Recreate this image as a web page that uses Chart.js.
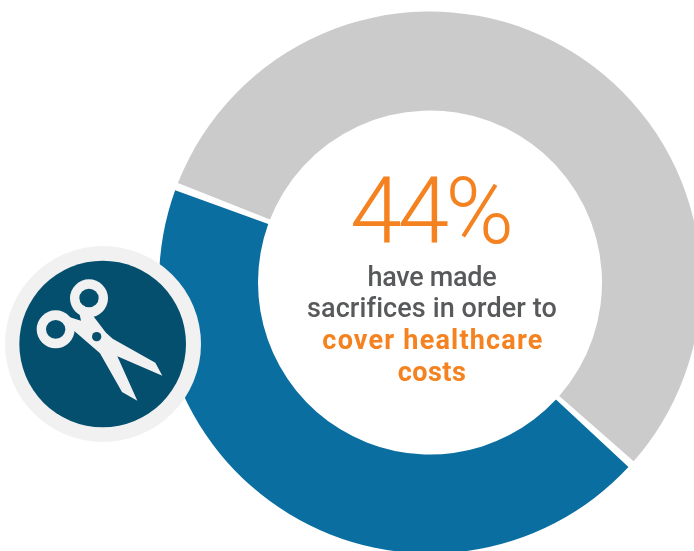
<!DOCTYPE html>
<html>
<head>
<meta charset="utf-8">
<script src="https://cdn.jsdelivr.net/npm/chart.js@4"></script>
<style>
html, body { margin: 0; padding: 0; background: #fff; width: 694px; height: 551px; overflow: hidden; }
#wrap { position: absolute; left: 0; top: 0; width: 694px; height: 551px; overflow: hidden; }
#ring { position: absolute; left: 159px; top: 11px; }
.txt { position: absolute; left: 232px; width: 400px; text-align: center; font-family: Roboto, sans-serif; font-weight: 500; white-space: nowrap; line-height: 32px; font-size: 27px; color: #58595b; }
.hl { color: #f58220; font-weight: 700; }
#big { left: 230px; font-size: 93px; font-weight: 300; color: #f58220; line-height: 100px; top: 162px; letter-spacing: -4px; }
#icon { position: absolute; left: 0; top: 230px; }
</style>
</head>
<body>
<div id="wrap">
  <canvas id="ring" width="542" height="543"></canvas>
  <div class="txt" id="big">44%</div>
  <div class="txt" style="top:261px;letter-spacing:-0.3px">have made</div>
  <div class="txt" style="top:292px;letter-spacing:0.1px">sacrifices in order to</div>
  <div class="txt hl" style="top:324px;letter-spacing:1.2px;left:233px">cover healthcare</div>
  <div class="txt hl" style="top:356px;letter-spacing:0.5px">costs</div>
  <svg id="icon" width="220" height="220" viewBox="0 0 660 660">
    <circle cx="309" cy="342" r="294" fill="#f1f1f1"/>
    <circle cx="308" cy="342" r="250" fill="#044e6e"/>
    <g fill="#f1f1f1">
      <circle cx="267" cy="205" r="57"/>
      <circle cx="167" cy="298" r="57"/>
      <path d="M243 272 L235 235 L275 252 L318 308 L338 326 L466 398 L487 437 L352 379 L412 512 L366 486 L300 370 L222 302 L205 260 Z"/>
    </g>
    <g fill="#044e6e">
      <ellipse cx="267" cy="204" rx="29" ry="28"/>
      <ellipse cx="167" cy="298" rx="29" ry="28"/>
      <circle cx="290" cy="320" r="14"/>
    </g>
  </svg>
</div>
<script>
var categories = ["Have made sacrifices", "Have not"];
var shares = [44, 56];
var sliceColors = ["#0a6fa0", "#cbcbcb"];

var ctx = document.getElementById("ring").getContext("2d");
var ringChart = new Chart(ctx, {
    type: "doughnut",
    data: {
        labels: categories,
        datasets: [{
            data: shares,
            backgroundColor: sliceColors,
            borderWidth: 0
        }]
    },
    options: {
        responsive: false,
        animation: false,
        rotation: 132.2,
        cutout: 170,
        spacing: 4,
        layout: { padding: 0 },
        plugins: {
            legend: { display: false },
            tooltip: { enabled: false }
        }
    }
});
</script>
</body>
</html>
